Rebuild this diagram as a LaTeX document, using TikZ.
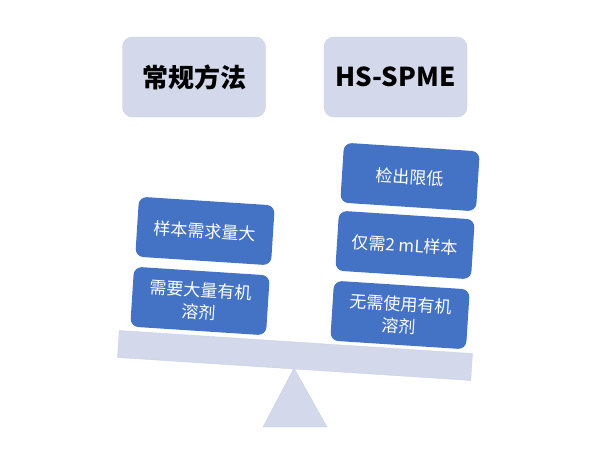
\documentclass[tikz,border=0pt]{standalone}
\usepackage{xcolor}
\usepackage{tikz}
\usepackage{fontspec}
\setmainfont{Noto Sans CJK SC}
\definecolor{lavender}{HTML}{D3D8EB}
\definecolor{lavedge}{HTML}{CBD1E7}
\definecolor{pillblue}{HTML}{4472C4}
\tikzstyle{headbox} = [fill=lavender,draw=lavedge,rounded corners=10pt,minimum width=143pt,minimum height=80pt,font=\fontsize{26}{30}\selectfont\bfseries]
\tikzstyle{pill} = [fill=pillblue,rounded corners=8pt,text=white,minimum width=136pt,minimum height=60pt,rotate=-3.7,align=center,font=\fontsize{17}{22}\selectfont]

\begin{document}
\begin{tikzpicture}[x=1pt,y=-1pt]
            \useasboundingbox (0,0) rectangle (597,450);
            \node[headbox] (conv) at (194,77) {常规方法};
            \node[headbox] (hsspme) at (395.5,77) {HS-SPME};

            \draw[fill=lavender,draw=lavedge] (294,368) -- (327,427) -- (263,427) -- cycle;
            \node[fill=lavender,draw=lavedge,minimum width=354pt,minimum height=27pt,rotate=-3.73] (beam) at (295,355.5) {};

            \node[pill] (bigsample) at (205,231) {样本需求量大};
            \node[pill] (solvent) at (200,301) {需要大量有机\\溶剂};

            \node[pill] (lod) at (410,177) {检出限低};
            \node[pill] (twoml) at (405,245) {仅需2 mL样本};
            \node[pill] (nosolvent) at (400,315) {无需使用有机\\溶剂};
        \end{tikzpicture}
\end{document}
